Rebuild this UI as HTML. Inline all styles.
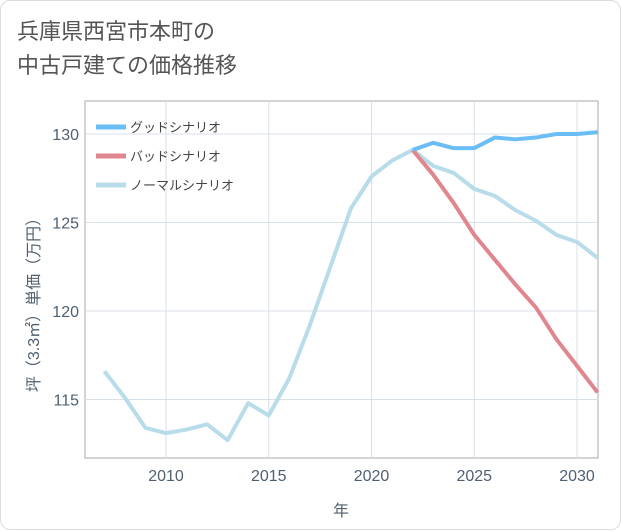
<!DOCTYPE html>
<html><head><meta charset="utf-8"><style>
body{margin:0;background:#fff;}
#card{position:absolute;left:0;top:0;width:619px;height:528px;border:1px solid #ddd;border-radius:10px;background:#fff;font-family:"Liberation Sans","Noto Sans CJK JP",sans-serif;}
#title{position:absolute;left:16px;top:14px;font-size:22px;line-height:34px;color:#555;}
svg text{font-family:"Liberation Sans","Noto Sans CJK JP",sans-serif;}
</style></head><body>
<div id="card">
<div id="title">兵庫県西宮市本町の<br>中古戸建ての価格推移</div>
<svg id="chart" width="621" height="530" style="position:absolute;left:0;top:0"></svg>
</div>
<script>
const years=[2007,2008,2009,2010,2011,2012,2013,2014,2015,2016,2017,2018,2019,2020,2021,2022,2023,2024,2025,2026,2027,2028,2029,2030,2031];
const normal=[116.6,115.1,113.4,113.1,113.3,113.6,112.7,114.8,114.1,116.2,119.2,122.5,125.8,127.6,128.5,129.1,128.2,127.8,126.9,126.5,125.7,125.1,124.3,123.9,123.0];
const futYears=[2022,2023,2024,2025,2026,2027,2028,2029,2030,2031];
const good=[129.1,129.5,129.2,129.2,129.8,129.7,129.8,130.0,130.0,130.1];
const bad=[129.1,127.7,126.1,124.3,122.9,121.5,120.2,118.4,116.9,115.4];
const xTicks=[2010,2015,2020,2025,2030];
const yTicks=[115,120,125,130];
const L=84,R=597,T=100,B=457;
const x=v=>165+(v-2010)*20.55;
const y=v=>133+(130-v)*17.7;
const svg=document.getElementById('chart');
const NS='http://www.w3.org/2000/svg';
function el(t,a){const e=document.createElementNS(NS,t);for(const k in a)e.setAttribute(k,a[k]);svg.appendChild(e);return e;}
const frame=el('rect',{x:L,y:T,width:R-L,height:B-T,fill:'none',stroke:'#aaa','stroke-width':1});


xTicks.forEach(v=>{
 const g=el('line',{x1:x(v),x2:x(v),y1:T,y2:B,stroke:'#d8e0e8'});
 
 
 const t=el('text',{x:x(v),y:480,'text-anchor':'middle','font-size':16,fill:'#506070'});t.textContent=v;
 
 
});
yTicks.forEach(v=>{
 const g=el('line',{x1:L,x2:R,y1:y(v),y2:y(v),stroke:'#d8e0e8'});
 
 
 const t=el('text',{x:78,y:y(v)+6,'text-anchor':'end','font-size':16,fill:'#506070'});t.textContent=v;
 
 
});
function line(xs,vs,c,n){
 const p=el('polyline',{points:xs.map((v,i)=>x(v)+','+y(vs[i])).join(' '),fill:'none',stroke:c,'stroke-width':4,'stroke-linejoin':'round'});
 
 
}
line(years,normal,'#b8dcea','normal-series');
line(futYears,bad,'#e0868e','bad-series');
line(futYears,good,'#6bbdf5','good-series');
const legend=[['グッドシナリオ','#6bbdf5'],['バッドシナリオ','#e0868e'],['ノーマルシナリオ','#b8dcea']];
legend.forEach((d,i)=>{
 const yy=126+i*29;
 const l=el('line',{x1:95,x2:125,y1:yy,y2:yy,stroke:d[1],'stroke-width':5});
 
 
 const t=el('text',{x:129,y:yy+5,'font-size':13,fill:'#444'});t.textContent=d[0];
 
 
});
const xt=el('text',{x:340,y:515,'text-anchor':'middle','font-size':16,fill:'#506070'});xt.textContent='年';


const yt=el('text',{x:0,y:0,'text-anchor':'middle','font-size':16,fill:'#506070',transform:'translate(38,300) rotate(-90)'});yt.textContent='坪（3.3㎡）単価（万円）';


</script>
</body></html>
